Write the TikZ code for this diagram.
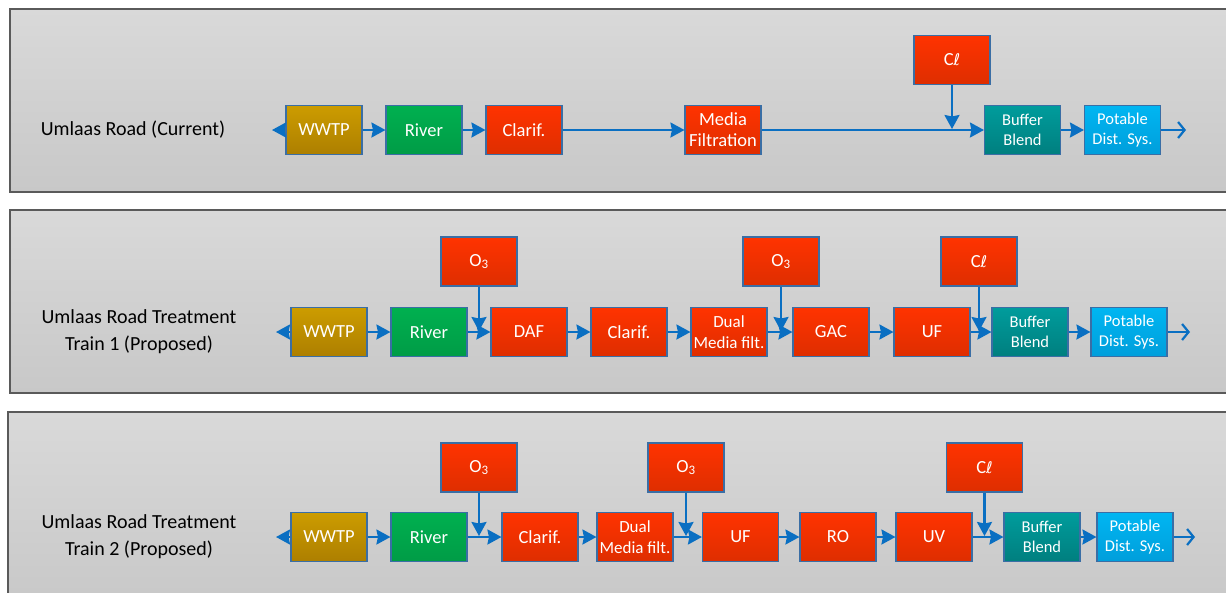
\documentclass[tikz,border=0pt]{standalone}
\usepackage{fontspec}
\setmainfont{Carlito}
\newfontfamily\dejavu{DejaVu Sans}
\usetikzlibrary{arrows.meta}
\definecolor{panelborder}{HTML}{5A5A5A}
\definecolor{paneltop}{HTML}{D9D9D9}
\definecolor{panelbot}{HTML}{C8C8C8}
\definecolor{boxborder}{HTML}{3A6EA5}
\definecolor{flowblue}{HTML}{0A6FC2}
\definecolor{goldtop}{HTML}{CC9C00}
\definecolor{goldbot}{HTML}{AD7F00}
\definecolor{greentop}{HTML}{00B050}
\definecolor{greenbot}{HTML}{009C46}
\definecolor{redtop}{HTML}{FF3300}
\definecolor{redbot}{HTML}{DE2E00}
\definecolor{tealtop}{HTML}{009C9C}
\definecolor{tealbot}{HTML}{007F7F}
\definecolor{skytop}{HTML}{00B6F2}
\definecolor{skybot}{HTML}{009EDB}
\newcommand{\clsym}{C{\dejavu\fontsize{16}{19}\selectfont ℓ}}
\begin{document}
\begin{tikzpicture}[x=1pt,y=-1pt,
  panel/.style={draw=panelborder, line width=1.2pt, top color=paneltop, bottom color=panelbot},
  box/.style={draw=boxborder, line width=1.1pt, minimum width=76pt, minimum height=49pt,
    inner sep=0pt, align=center, text=white, font=\fontsize{18.5}{21}\selectfont},
  small/.style={font=\fontsize{16.5}{19.5}\selectfont},
  dual/.style={font=\fontsize{17}{21.5}\selectfont},
  gold/.style={box, top color=goldtop, bottom color=goldbot},
  green/.style={box, top color=greentop, bottom color=greenbot},
  red/.style={box, top color=redtop, bottom color=redbot},
  teal/.style={box, small, top color=tealtop, bottom color=tealbot},
  sky/.style={box, small, top color=skytop, bottom color=skybot},
  label/.style={align=center, text=black, font=\fontsize{20}{26.7}\selectfont},
  flow/.style={draw=flowblue, line width=2.2pt, -{Stealth[length=14pt, width=15pt, inset=1.5pt]}},
  flowout/.style={draw=flowblue, line width=2.2pt, -{Straight Barb[length=6.5pt, width=16pt]}}
]
\useasboundingbox (0,0) rectangle (1226,592);
\begin{scope}
\clip (0,0) rectangle (1226,592);
\fill[white] (0,0) rectangle (1226,592);
\path[panel] (10,9) rectangle (1240,192);
\path[panel] (10,210) rectangle (1240,393);
\path[panel] (8,412) rectangle (1240,605);
\end{scope}

% ---------- Panel 1 ----------
\node[label] (lab1) at (133,130) {Umlaas Road (Current)};
\node[gold] (w1) at (324,130) {WWTP};
\node[green] (r1) at (424,130) {River};
\node[red] (c1) at (524,130) {Clarif.};
\node[red] (m1) at (723,130) {Media\\Filtration};
\node[red] (cl1) at (952,60) {\clsym};
\node[teal] (b1) at (1022.5,130) {Buffer\\Blend};
\node[sky] (p1) at (1122.5,130) {Potable\\Dist. Sys.};
\coordinate (l1) at (272,130);
\coordinate (e1) at (1186,130);
\coordinate (j1) at (952,129);
\draw[flow] (w1) -- (l1);
\draw[flow] (w1) -- (r1);
\draw[flow] (r1) -- (c1);
\draw[flow] (c1) -- (m1);
\draw[flow] (m1) -- (b1);
\draw[flow] (cl1) -- (j1);
\draw[flow] (b1) -- (p1);
\draw[flowout] (p1) -- (e1);

% ---------- Panel 2 ----------
\node[label] (lab2) at (139,332) {Umlaas Road Treatment\\Train 1 (Proposed)};
\node[gold] (w2) at (329,332) {WWTP};
\node[green] (r2) at (429,332) {River};
\node[red] (d2) at (529,332) {DAF};
\node[red] (c2) at (629,332) {Clarif.};
\node[red, dual] (dm2) at (729,332) {Dual\\Media filt.};
\node[red] (g2) at (831,332) {GAC};
\node[red] (u2) at (932,332) {UF};
\node[teal] (b2) at (1030,332) {Buffer\\Blend};
\node[sky] (p2) at (1129,332) {Potable\\Dist. Sys.};
\node[red] (oa2) at (479,261.5) {O\textsubscript{3}};
\node[red] (ob2) at (781,261.5) {O\textsubscript{3}};
\node[red] (cl2) at (979,261.5) {\clsym};
\coordinate (l2) at (276,332);
\coordinate (e2) at (1190,332);
\coordinate (ja2) at (479,331);
\coordinate (jb2) at (781,331);
\coordinate (jc2) at (979,331);
\draw[flow] (w2) -- (l2);
\draw[flow] (w2) -- (r2);
\draw[flow] (r2) -- (d2);
\draw[flow] (d2) -- (c2);
\draw[flow] (c2) -- (dm2);
\draw[flow] (dm2) -- (g2);
\draw[flow] (g2) -- (u2);
\draw[flow] (u2) -- (b2);
\draw[flow] (b2) -- (p2);
\draw[flowout] (p2) -- (e2);
\draw[flow] (oa2) -- (ja2);
\draw[flow] (ob2) -- (jb2);
\draw[flow] (cl2) -- (jc2);

% ---------- Panel 3 ----------
\node[label] (lab3) at (139,537) {Umlaas Road Treatment\\Train 2 (Proposed)};
\node[gold] (w3) at (329,537) {WWTP};
\node[green] (r3) at (429,537) {River};
\node[red] (c3) at (540,537) {Clarif.};
\node[red, dual] (dm3) at (635,537) {Dual\\Media filt.};
\node[red] (u3) at (740.5,537) {UF};
\node[red] (ro3) at (838,537) {RO};
\node[red] (uv3) at (934,537) {UV};
\node[teal] (b3) at (1042,537) {Buffer\\Blend};
\node[sky] (p3) at (1135,537) {Potable\\Dist. Sys.};
\node[red] (oa3) at (479,467.5) {O\textsubscript{3}};
\node[red] (ob3) at (686,467.5) {O\textsubscript{3}};
\node[red] (cl3) at (984.5,467.5) {\clsym};
\coordinate (l3) at (276,537);
\coordinate (e3) at (1195,537);
\coordinate (ja3) at (479,536);
\coordinate (jb3) at (686,536);
\coordinate (jc3) at (984.5,536);
\draw[flow] (w3) -- (l3);
\draw[flow] (w3) -- (r3);
\draw[flow] (r3) -- (c3);
\draw[flow] (c3) -- (dm3);
\draw[flow] (dm3) -- (u3);
\draw[flow] (u3) -- (ro3);
\draw[flow] (ro3) -- (uv3);
\draw[flow] (uv3) -- (b3);
\draw[flow] (b3) -- (p3);
\draw[flowout] (p3) -- (e3);
\draw[flow] (oa3) -- (ja3);
\draw[flow] (ob3) -- (jb3);
\draw[flow] (cl3) -- (jc3);
\end{tikzpicture}
\end{document}
